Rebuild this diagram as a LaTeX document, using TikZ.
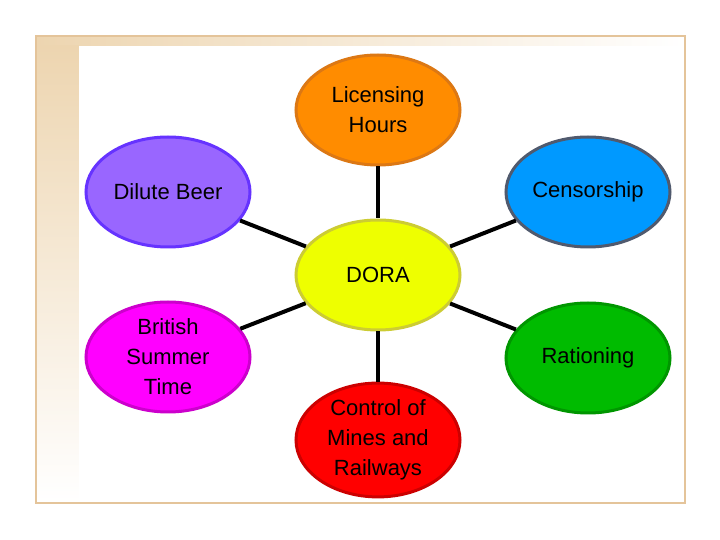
\documentclass[tikz,border=0pt]{standalone}
\usepackage{fontspec}
\setmainfont{Liberation Sans}
\usetikzlibrary{shapes.geometric}
\definecolor{tanA}{HTML}{EDD5B0}
\begin{document}
\begin{tikzpicture}[x=0.5pt,y=-0.5pt,
  bub/.style={ellipse,minimum width=164\pgflinewidth*0+82pt,minimum height=55pt,line width=1.5pt,align=center,font=\fontsize{11}{15}\selectfont,inner sep=0pt},
  conn/.style={line width=2pt,black}]
\useasboundingbox (0,0) rectangle (720,540);
\fill[white] (0,0) rectangle (720,540);
\shade[left color=tanA,right color=white] (36,36) rectangle (685,46);
\shade[top color=tanA,bottom color=white] (36,46) rectangle (79,503);
\draw[color=tanA!80!brown,line width=1pt] (36,36) rectangle (685,503);
\node[bub,fill={rgb,255:red,255;green,140;blue,0},draw={rgb,255:red,220;green,120;blue,20}] (lic) at (378,110) {Licensing\\Hours};
\node[bub,fill={rgb,255:red,153;green,102;blue,255},draw={rgb,255:red,102;green,51;blue,255}] (beer) at (168,192) {Dilute Beer};
\node[bub,fill={rgb,255:red,0;green,153;blue,255},draw={rgb,255:red,80;green,90;blue,110}] (cen) at (588,192) {Censorship};
\node[bub,fill={rgb,255:red,238;green,255;blue,0},draw={rgb,255:red,204;green,204;blue,51}] (dora) at (378,275) {DORA};
\node[bub,fill={rgb,255:red,255;green,0;blue,255},draw={rgb,255:red,204;green,0;blue,204}] (bst) at (168,357) {British\\Summer\\Time};
\node[bub,fill={rgb,255:red,0;green,187;blue,0},draw={rgb,255:red,0;green,150;blue,0}] (rat) at (588,358) {Rationing};
\node[bub,fill={rgb,255:red,255;green,0;blue,0},draw={rgb,255:red,204;green,0;blue,0}] (mines) at (378,440) {Control of\\Mines and\\Railways};
\draw[conn] (lic) -- (dora);
\draw[conn] (beer) -- (dora);
\draw[conn] (cen) -- (dora);
\draw[conn] (bst) -- (dora);
\draw[conn] (rat) -- (dora);
\draw[conn] (mines) -- (dora);
\end{tikzpicture}
\end{document}
